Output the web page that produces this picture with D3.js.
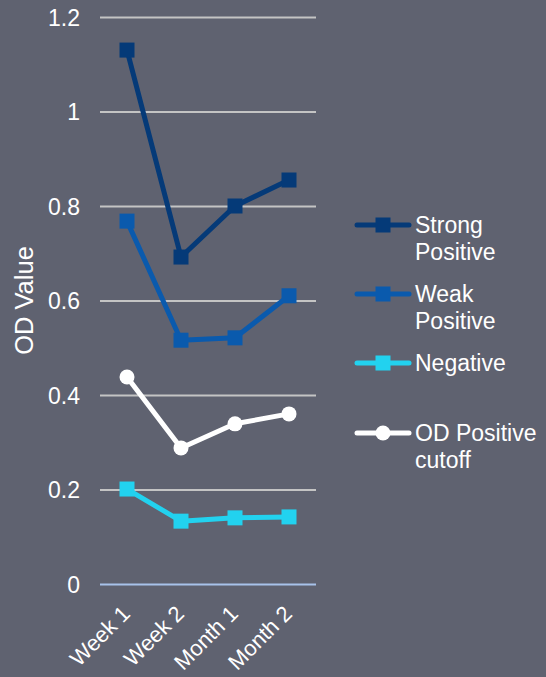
<!DOCTYPE html>
<html>
<head>
<meta charset="utf-8">
<script src="https://cdn.jsdelivr.net/npm/d3@7"></script>
<style>
  html, body { margin: 0; padding: 0; background: #5f6270; }
  svg { display: block; font-family: "Liberation Sans", Arial, sans-serif; }
</style>
</head>
<body>
<svg id="chart" width="546" height="677"></svg>
<script>
// Time points along the x axis
const categories = ["Week 1", "Week 2", "Month 1", "Month 2"];

// Mean OD readings per group
const strongPositive = [1.13, 0.692, 0.80, 0.855];
const weakPositive   = [0.768, 0.516, 0.521, 0.610];
const negative       = [0.201, 0.133, 0.140, 0.142];
const odCutoff       = [0.438, 0.288, 0.339, 0.360];

const yTicks = [0, 0.2, 0.4, 0.6, 0.8, 1, 1.2];
const yTickLabels = ["0", "0.2", "0.4", "0.6", "0.8", "1", "1.2"];

const seriesNames = [["Strong", "Positive"], ["Weak", "Positive"], ["Negative"], ["OD Positive", "cutoff"]];
const seriesValues = [strongPositive, weakPositive, negative, odCutoff];
const seriesColors = ["#053a78", "#0a5aad", "#22d2ef", "#ffffff"];
const seriesMarkers = ["square", "square", "square", "circle"];

const svg = d3.select("#chart");
const plot = { left: 100, right: 316, top: 17, bottom: 584 };

const x = d3.scalePoint().domain(categories).range([plot.left, plot.right]).padding(0.5);
const y = d3.scaleLinear().domain([0, 1.2]).range([plot.bottom, plot.top]);

// Horizontal gridlines with value labels
const yAxis = d3.axisLeft(y).tickValues(yTicks)
  .tickSize(-(plot.right - plot.left))
  .tickFormat((d, i) => yTickLabels[i]);
const gy = svg.append("g").attr("transform", `translate(${plot.left},0)`).call(yAxis);
gy.select(".domain").remove();
gy.selectAll(".tick line")
  .attr("stroke", d => d === 0 ? "#a8c2ea" : "#c4c4c4")
  .attr("stroke-width", 2);
gy.selectAll(".tick text")
  .attr("fill", "#ffffff").attr("font-size", 23)
  .attr("x", -20).attr("dy", "0.35em");

// Category labels, rotated
const xAxis = d3.axisBottom(x).tickSize(0).tickPadding(0);
const gx = svg.append("g").attr("transform", `translate(0,${plot.bottom})`).call(xAxis);
gx.select(".domain").remove();
gx.selectAll(".tick text")
  .attr("fill", "#ffffff").attr("font-size", 22)
  .attr("text-anchor", "end")
  .attr("dy", null).attr("y", 0)
  .attr("transform", "translate(4,31) rotate(-45)");

// Y axis title
svg.append("text")
  .attr("transform", `translate(33,${(plot.top + plot.bottom) / 2}) rotate(-90)`)
  .attr("text-anchor", "middle")
  .attr("fill", "#ffffff").attr("font-size", 25.5)
  .text("OD Value");

const line = d3.line().x((d, i) => x(categories[i])).y(d => y(d));

function drawMarker(g, kind, cx, cy, color) {
  if (kind === "square") {
    g.append("rect").attr("x", cx - 7.5).attr("y", cy - 7.5)
      .attr("width", 15).attr("height", 15).attr("fill", color);
  } else {
    g.append("circle").attr("cx", cx).attr("cy", cy).attr("r", 7.5).attr("fill", color);
  }
}

// Series lines and markers
seriesValues.forEach((vals, s) => {
  const g = svg.append("g");
  g.append("path").datum(vals)
    .attr("d", line)
    .attr("fill", "none")
    .attr("stroke", seriesColors[s])
    .attr("stroke-width", 5)
    .attr("stroke-linejoin", "round");
  vals.forEach((v, i) => drawMarker(g, seriesMarkers[s], x(categories[i]), y(v), seriesColors[s]));
});

// Legend
const legendY = [225, 294, 363, 433];
seriesNames.forEach((lines, s) => {
  const g = svg.append("g").attr("transform", `translate(0,${legendY[s]})`);
  g.append("line").attr("x1", 357).attr("x2", 409).attr("y1", 0).attr("y2", 0)
    .attr("stroke", seriesColors[s]).attr("stroke-width", 5).attr("stroke-linecap", "round");
  drawMarker(g, seriesMarkers[s], 383, 0, seriesColors[s]);
  const t = g.append("text").attr("fill", "#ffffff").attr("font-size", 23);
  lines.forEach((ln, k) => {
    t.append("tspan").attr("x", 415).attr("y", 8 + k * 27).text(ln);
  });
});
</script>
</body>
</html>
